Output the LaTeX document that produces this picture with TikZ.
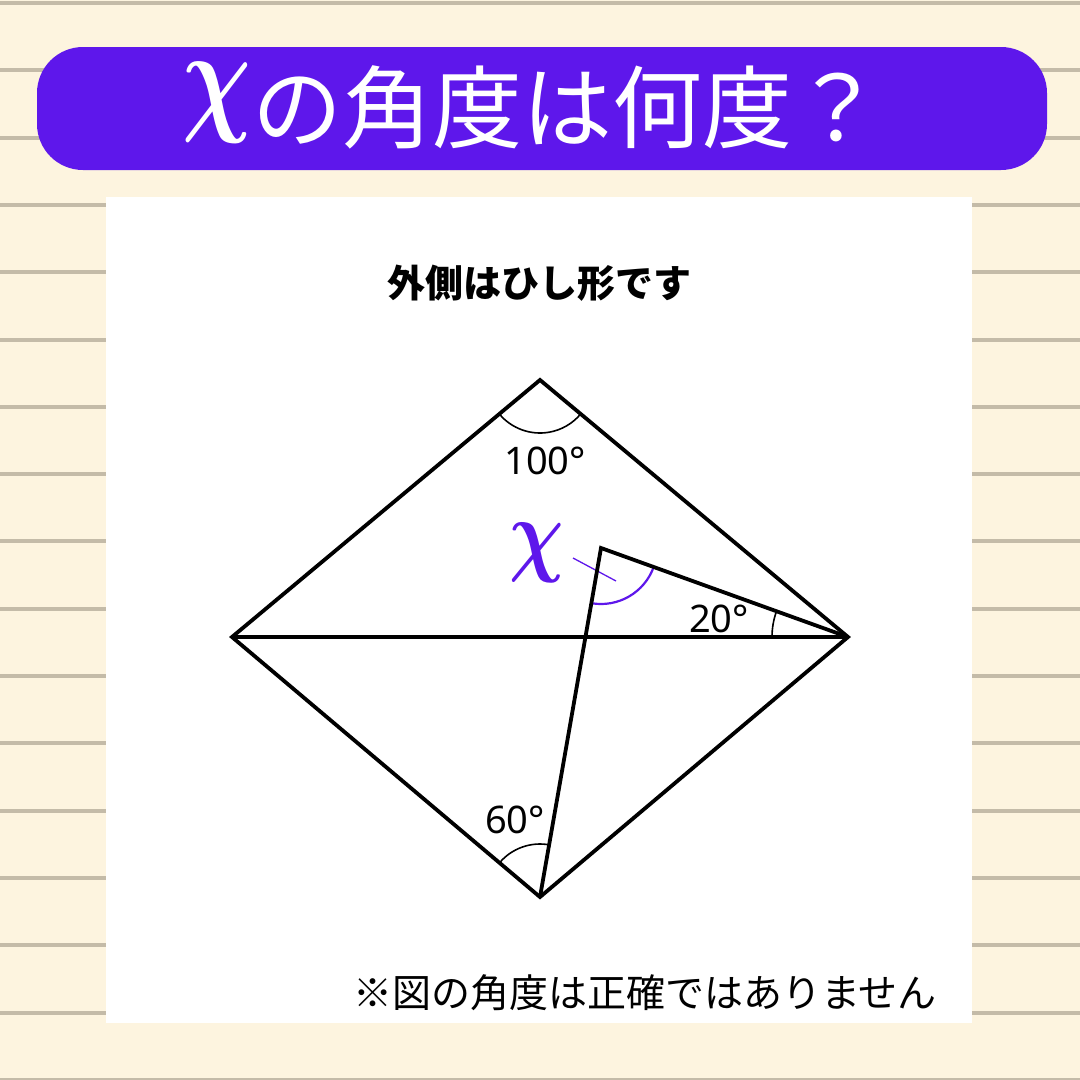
\documentclass[tikz,border=0pt]{standalone}
\usepackage{fontspec}
\usepackage{graphicx}
\usepackage{bm}
\setmainfont{Noto Sans}
\newfontfamily\jp{Noto Sans CJK JP}
\usetikzlibrary{angles}
\definecolor{bgcream}{HTML}{FDF4DF}
\definecolor{rulegray}{HTML}{C4BBA8}
\definecolor{vio}{HTML}{5E17EB}
\tikzset{
  edge/.style={line width=3.8pt, line join=miter},
  anglearc/.style={draw, line width=1.6pt},
  deg/.style={font=\fontsize{38}{38}\selectfont, anchor=base, inner sep=0pt},
}
\begin{document}
\begin{tikzpicture}[x=1pt,y=1pt]
\useasboundingbox (0,0) rectangle (1080,-1080);
\fill[bgcream] (0,0) rectangle (1080,-1080);
\foreach \k in {0,...,16} {
  \fill[rulegray] (0,{-1-67.3*\k}) rectangle (1080,{-5-67.3*\k});
}
% banner
\fill[vio, rounded corners=46pt] (37,-47) rectangle (1047,-170);
\node (tx) at (217,-103) {\color{white}\scalebox{9.6}[12.6]{$\bm{\chi}$}};
\node[anchor=base west, inner sep=0pt, text=white, font=\jp\fontsize{90}{90}\selectfont] (title) at (252,-141) {の角度は何度？};
% panel
\fill[white] (106,-197) rectangle (972,-1023);
\node[anchor=base, inner sep=0pt, font=\jp\bfseries\fontsize{38}{38}\selectfont] (sub) at (539,-297) {外側はひし形です};
\node[anchor=base, inner sep=0pt, font=\jp\fontsize{39}{39}\selectfont] (note) at (645,-1007) {※図の角度は正確ではありません};
% geometry
\coordinate (T) at (540,-380);
\coordinate (L) at (232,-637);
\coordinate (R) at (848,-637);
\coordinate (B) at (540,-897);
\coordinate (P) at (601,-548);
\coordinate (xp1) at (573,-558);
\coordinate (xp2) at (616,-581);
% angle marks
\pic[anglearc, angle radius=53pt] {angle = L--T--R};
\pic[anglearc, angle radius=76pt] {angle = P--R--L};
\pic[anglearc, angle radius=53pt] {angle = P--B--L};
\pic[draw=vio, line width=2.2pt, angle radius=56pt] {angle = B--P--R};
\draw[vio, line width=1.3pt] (xp1) -- (xp2);
% shapes
\draw[edge] (T) -- (R) -- (B) -- (L) -- cycle;
\draw[edge] (L) -- (R);
\draw[edge] (B) -- (P) -- (R);
% labels
\node[deg] (a100) at (545,-474) {100°};
\node[deg] (a20) at (719,-632) {20°};
\node[deg] (a60) at (515,-833) {60°};
\node[text=vio] (xl) at (537,-553) {\scalebox{7.6}[9.3]{$\bm{\chi}$}};
\end{tikzpicture}
\end{document}
